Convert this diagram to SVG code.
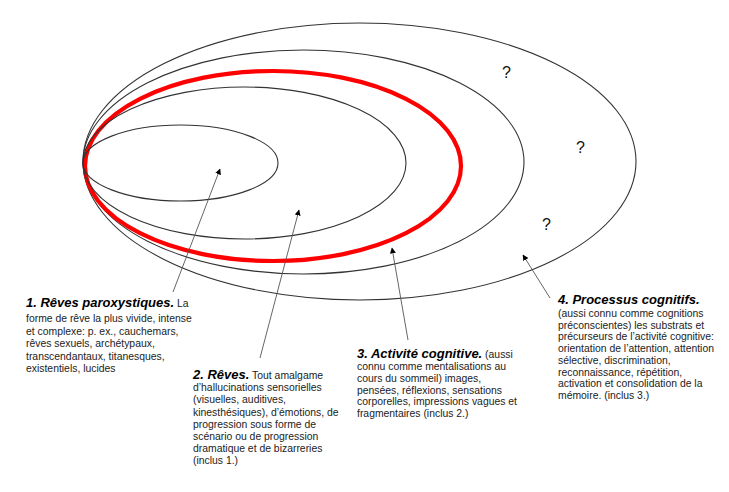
<svg xmlns="http://www.w3.org/2000/svg" width="729" height="492" viewBox="0 0 729 492">
<style>
.ell{fill:none;stroke:#333;stroke-width:1.1}
.red{fill:none;stroke:#ff0000;stroke-width:4.2}
.con{stroke:#555;stroke-width:0.9;fill:none}
text{font-family:"Liberation Sans",Arial,sans-serif;fill:#222}
.t{font-size:13px;font-weight:bold;font-style:italic;fill:#000}
.b{font-size:10.4px}
.q{font-size:16px;fill:#111}
</style>
<defs>
<marker id="ah" viewBox="0 0 10 10" refX="9" refY="5" markerWidth="6" markerHeight="6" markerUnits="userSpaceOnUse" orient="auto">
<path d="M0,0 L10,5 L0,10 z" fill="#000"/>
</marker>
</defs>
<rect width="729" height="492" fill="#fff"/>
<g id="n5"><ellipse class="ell" cx="359.5" cy="161.5" rx="276.5" ry="138.5"/></g>
<g id="n4"><ellipse class="ell" cx="303.5" cy="162" rx="220.5" ry="112"/></g>
<g id="n3"><ellipse class="red" cx="273" cy="166" rx="188" ry="95"/></g>
<g id="n2"><ellipse class="ell" cx="244.5" cy="163" rx="161.5" ry="76"/></g>
<g id="n1"><ellipse class="ell" cx="180.5" cy="163" rx="97.5" ry="38"/></g>
<g id="questions">
<text class="q" x="502" y="78">?</text>
<text class="q" x="576" y="153">?</text>
<text class="q" x="542" y="230">?</text>
</g>
<g id="connectors">
<line class="con" x1="173" y1="292" x2="220" y2="169" marker-end="url(#ah)"/>
<line class="con" x1="260" y1="358" x2="299" y2="210" marker-end="url(#ah)"/>
<line class="con" x1="408" y1="340" x2="392" y2="248" marker-end="url(#ah)"/>
<line class="con" x1="550" y1="298" x2="523" y2="255" marker-end="url(#ah)"/>
</g>
<g id="label1">
<text x="26" y="307"><tspan class="t">1. Rêves paroxystiques.</tspan><tspan class="b"> La</tspan></text>
<text class="b" x="26" y="322">forme de rêve la plus vivide, intense</text>
<text class="b" x="26" y="334.5">et complexe: p. ex., cauchemars,</text>
<text class="b" x="26" y="347">rêves sexuels, archétypaux,</text>
<text class="b" x="26" y="359.5">transcendantaux, titanesques,</text>
<text class="b" x="26" y="372">existentiels, lucides</text>
</g>
<g id="label2">
<text x="193" y="379"><tspan class="t">2. Rêves.</tspan><tspan class="b"> Tout amalgame</tspan></text>
<text class="b" x="193" y="391">d’hallucinations sensorielles</text>
<text class="b" x="193" y="403">(visuelles, auditives,</text>
<text class="b" x="193" y="415.5">kinesthésiques), d’émotions, de</text>
<text class="b" x="193" y="427.5">progression sous forme de</text>
<text class="b" x="193" y="439.5">scénario ou de progression</text>
<text class="b" x="193" y="451.5">dramatique et de bizarreries</text>
<text class="b" x="193" y="463.5">(inclus 1.)</text>
</g>
<g id="label3">
<text x="357" y="358"><tspan class="t">3. Activité cognitive.</tspan><tspan class="b"> (aussi</tspan></text>
<text class="b" x="357" y="370">connu comme mentalisations au</text>
<text class="b" x="357" y="381.8">cours du sommeil) images,</text>
<text class="b" x="357" y="393.6">pensées, réflexions, sensations</text>
<text class="b" x="357" y="405.4">corporelles, impressions vagues et</text>
<text class="b" x="357" y="417.2">fragmentaires (inclus 2.)</text>
</g>
<g id="label4">
<text class="t" x="558" y="304">4. Processus cognitifs.</text>
<text class="b" x="558" y="317">(aussi connu comme cognitions</text>
<text class="b" x="558" y="328.7">préconscientes) les substrats et</text>
<text class="b" x="558" y="340.4">précurseurs de l’activité cognitive:</text>
<text class="b" x="558" y="352.1">orientation de l’attention, attention</text>
<text class="b" x="558" y="363.8">sélective, discrimination,</text>
<text class="b" x="558" y="375.5">reconnaissance, répétition,</text>
<text class="b" x="558" y="387.2">activation et consolidation de la</text>
<text class="b" x="558" y="398.9">mémoire. (inclus 3.)</text>
</g>
</svg>
